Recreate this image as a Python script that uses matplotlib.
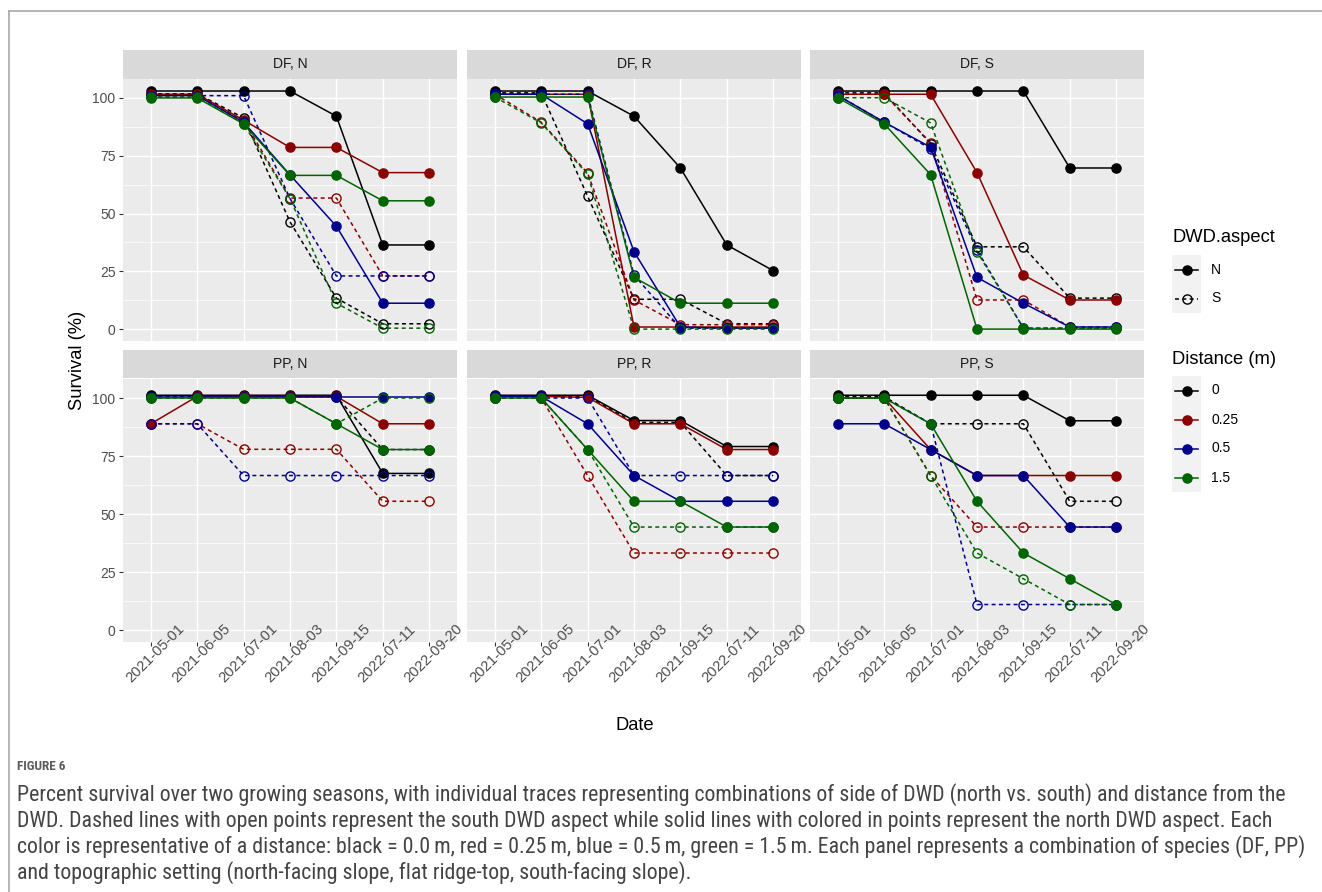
import matplotlib
matplotlib.use("Agg")
import matplotlib.pyplot as plt
from matplotlib import font_manager
from matplotlib.patches import Rectangle
from matplotlib.lines import Line2D
from matplotlib.transforms import ScaledTranslation, blended_transform_factory

# ---------------------------------------------------------------- data
dates = ["2021-05-01", "2021-06-05", "2021-07-01", "2021-08-03",
         "2021-09-15", "2022-07-11", "2022-09-20"]
distances = ["0", "0.25", "0.5", "1.5"]
aspects = ["N", "S"]
species = ["DF", "PP"]
settings = ["N", "R", "S"]

# rows: distance 0, 0.25, 0.5, 1.5 ; columns: survey dates
df_n_north = [[103, 103, 103, 103, 92.1, 36.4, 36.4],
              [101.6, 101.6, 90.4, 78.6, 78.6, 67.7, 67.7],
              [101, 101, 89.5, 66.7, 44.5, 11.2, 11.2],
              [100, 100, 88.8, 66.5, 66.5, 55.5, 55.5]]
df_n_south = [[101.8, 101.8, 91.4, 46.4, 13.4, 2.3, 2.3],
              [101, 101, 90.2, 56.7, 56.7, 23, 23],
              [101, 101, 101, 56.5, 23, 23, 23],
              [100.4, 100.4, 88.8, 56.5, 11.2, 0.4, 0.4]]

df_r_north = [[103, 103, 103, 92.1, 69.7, 36.4, 25.3],
              [101.6, 101.6, 101.6, 0.9, 0.9, 0.9, 0.9],
              [101.6, 101.6, 88.8, 33.5, 0.9, 0.4, 0.4],
              [100.4, 100.4, 100.4, 22.4, 11.2, 11.2, 11.2]]
df_r_south = [[102.2, 102.2, 57.5, 12.9, 12.9, 2.3, 2.3],
              [101.6, 89.5, 67.5, 12.6, 1.9, 1.9, 1.9],
              [101.6, 101.6, 101.6, 23.4, 0.4, 0.4, 0.4],
              [100.4, 89.2, 67, 0, 0, 0, 0]]

df_s_north = [[103, 103, 103, 103, 103, 69.7, 69.7],
              [101.6, 101.6, 101.6, 67.7, 23.4, 12.6, 12.6],
              [101.1, 89.5, 78.7, 22.4, 11.2, 0.9, 0.9],
              [100.1, 88.8, 66.8, 0, 0, 0, 0]]
df_s_south = [[102.2, 102.2, 80.2, 35.6, 35.6, 13.4, 13.4],
              [101.6, 101.6, 80.6, 12.6, 12.6, 0.9, 0.9],
              [101.1, 89.5, 78, 34.2, 0.4, 0.4, 0.4],
              [100.1, 100.1, 89.2, 33.5, 0.4, 0.4, 0.4]]

pp_n_north = [[101.2, 101.2, 101.2, 101.2, 101.2, 67.5, 67.5],
              [88.9, 100.7, 100.7, 100.7, 100.7, 88.9, 88.9],
              [100.5, 100.5, 100.5, 100.5, 100.5, 100.5, 100.5],
              [100, 100, 100, 100, 88.9, 77.8, 77.8]]
pp_n_south = [[100.6, 100.6, 100.6, 100.6, 100.6, 77.8, 77.8],
              [88.9, 88.9, 77.9, 77.9, 77.9, 55.5, 55.5],
              [88.9, 88.9, 66.6, 66.6, 66.6, 66.6, 66.6],
              [100, 100, 100, 100, 88.9, 100, 100]]

pp_r_north = [[101.2, 101.2, 101.2, 90.3, 90.3, 79.1, 79.1],
              [100.7, 100.7, 100.3, 88.9, 88.9, 77.8, 77.8],
              [100.7, 100.7, 88.9, 66.6, 55.5, 55.5, 55.5],
              [100, 100, 77.8, 55.5, 55.5, 44.4, 44.4]]
pp_r_south = [[100.7, 100.7, 100.7, 89.5, 89.5, 66.6, 66.6],
              [100, 100, 66.6, 33.2, 33.2, 33.2, 33.2],
              [100, 100, 100, 66.6, 66.6, 66.6, 66.6],
              [100, 100, 77.8, 44.4, 44.4, 44.4, 44.4]]

pp_s_north = [[101.2, 101.2, 101.2, 101.2, 101.2, 90.2, 90.2],
              [100, 100, 77.8, 66.6, 66.6, 66.6, 66.6],
              [88.9, 88.9, 77.8, 66.6, 66.6, 44.4, 44.4],
              [100, 100, 88.9, 55.5, 33.2, 22.1, 11.0]]
pp_s_south = [[100.6, 100.6, 88.9, 88.9, 88.9, 55.5, 55.5],
              [100, 100, 66.6, 44.4, 44.4, 44.4, 44.4],
              [100, 100, 88.9, 11.0, 11.0, 11.0, 11.0],
              [100, 100, 66.6, 33.2, 22.1, 11.0, 11.0]]

y_ticks = [0, 25, 50, 75, 100]

panel_data = {
    ("DF", "N"): (df_n_north, df_n_south),
    ("DF", "R"): (df_r_north, df_r_south),
    ("DF", "S"): (df_s_north, df_s_south),
    ("PP", "N"): (pp_n_north, pp_n_south),
    ("PP", "R"): (pp_r_north, pp_r_south),
    ("PP", "S"): (pp_s_north, pp_s_south),
}

caption_label = "FIGURE 6"
caption_lines = [
    "Percent survival over two growing seasons, with individual traces representing combinations of side of DWD (north vs. south) and distance from the",
    "DWD. Dashed lines with open points represent the south DWD aspect while solid lines with colored in points represent the north DWD aspect. Each",
    "color is representative of a distance: black = 0.0\u2009m, red = 0.25\u2009m, blue = 0.5\u2009m, green = 1.5\u2009m. Each panel represents a combination of species (DF, PP)",
    "and topographic setting (north-facing slope, flat ridge-top, south-facing slope).",
]

# ---------------------------------------------------------------- style
colors = ["#000000", "#8B0000", "#00008B", "#006400"]
PANEL_BG = "#EBEBEB"
STRIP_BG = "#D9D9D9"
TICK_TXT = "#4D4D4D"
TICK_CLR = "#333333"
FONT = "Liberation Sans"
plt.rcParams["font.family"] = [FONT, "DejaVu Sans"]

W, H = 1322, 892
DPI = 100
fig = plt.figure(figsize=(W / DPI, H / DPI), dpi=DPI)
fig.patch.set_facecolor("white")

col_left = [123, 467, 810]
panel_w = 334
row_top = [79, 379]
panel_h = [262, 263]
strip_h = 28.5


def px_rect(x, y, w, h):
    return [x / W, 1 - (y + h) / H, w / W, h / H]


xpos = list(range(1, len(dates) + 1))
solid_ls = "-"
dash_ls = (0, (2.6, 2.2))
LW = 1.1
MS = 6.6

# overlay in pixel coordinates for titles, legends, caption and date labels
ov = fig.add_axes([0, 0, 1, 1], zorder=5)
ov.set_xlim(0, W)
ov.set_ylim(H, 0)
ov.axis("off")
ov.patch.set_alpha(0)

for r, sp in enumerate(species):
    for c, st in enumerate(settings):
        ax = fig.add_axes(px_rect(col_left[c], row_top[r], panel_w, panel_h[r]))
        ax.set_facecolor(PANEL_BG)
        for s in ax.spines.values():
            s.set_visible(False)
        ax.set_xlim(0.4, len(dates) + 0.6)
        ax.set_ylim(-5.15, 108.2)
        ax.set_yticks(y_ticks)
        ax.set_yticks([12.5, 37.5, 62.5, 87.5], minor=True)
        ax.set_xticks(xpos)
        ax.grid(True, which="major", color="white", linewidth=1.05, zorder=0)
        ax.grid(True, which="minor", axis="y", color="white", linewidth=0.5, zorder=0)
        ax.set_axisbelow(True)
        ax.tick_params(which="minor", length=0)
        ax.tick_params(which="major", length=2.9, width=0.8, color=TICK_CLR,
                       labelcolor=TICK_TXT, labelsize=10)
        ax.tick_params(axis="x", labelbottom=False)

        north, south = panel_data[(sp, st)]
        # lines first, then points (as the groups are layered)
        for d in range(len(distances)):
            ax.plot(xpos, north[d], color=colors[d], lw=LW, ls=solid_ls, zorder=2)
            ax.plot(xpos, south[d], color=colors[d], lw=LW, ls=dash_ls, zorder=2)
        for d in range(len(distances)):
            ax.plot(xpos, north[d], ls="none", marker="o", ms=MS,
                    mfc=colors[d], mec=colors[d], mew=1.0, zorder=3)
            ax.plot(xpos, south[d], ls="none", marker="o", ms=MS,
                    mfc="none", mec=colors[d], mew=1.0, zorder=3)

        if c == 0:
            ax.set_yticklabels([str(v) for v in y_ticks])
            ax.tick_params(axis="y", pad=2.5)
        else:
            ax.tick_params(axis="y", length=0, labelleft=False)
        if r == 1:
            # rotated date labels, centred just below and right of each tick
            tr = blended_transform_factory(ax.transData, ax.transAxes) + \
                ScaledTranslation(4.5 / DPI, -11.5 / DPI, fig.dpi_scale_trans)
            for xp, lab in zip(xpos, dates):
                ov.text(xp, 0, lab, transform=tr, rotation=45, ha="center",
                        va="center", rotation_mode="anchor", fontsize=10.6,
                        color=TICK_TXT, clip_on=False)
        else:
            ax.tick_params(axis="x", length=0)

        # facet strip
        sax = fig.add_axes(px_rect(col_left[c], row_top[r] - strip_h - 0.5,
                                   panel_w, strip_h))
        sax.set_facecolor(STRIP_BG)
        sax.set_xticks([])
        sax.set_yticks([])
        for s in sax.spines.values():
            s.set_visible(False)
        sax.text(0.5, 0.5, f"{sp}, {st}", ha="center", va="center",
                 fontsize=10, color="#1A1A1A", transform=sax.transAxes)

# axis titles
ov.text(77, 360, "Survival (%)", rotation=90, ha="center", va="center",
        fontsize=13.2, color="black")
ov.text(635, 725, "Date", ha="center", va="center", fontsize=13.2, color="black")


def legend_block(title, title_y, box_top, labels, key_colors, styles, fills):
    ov.text(1172, title_y, title, ha="left", va="center", fontsize=13.2)
    key = 29
    for i, lab in enumerate(labels):
        y0 = box_top + i * key
        ov.add_patch(Rectangle((1172, y0), key, key, facecolor="#F2F2F2",
                               edgecolor="none"))
        cy = y0 + key / 2
        ov.add_line(Line2D([1175, 1198], [cy, cy], color=key_colors[i], lw=LW,
                           ls=styles[i]))
        ov.add_line(Line2D([1186.5], [cy], marker="o", ms=MS, ls="none",
                           mfc=key_colors[i] if fills[i] else "none",
                           mec=key_colors[i], mew=1.0))
        ov.text(1211, cy, lab, ha="left", va="center", fontsize=10)


legend_block("DWD.aspect", 237, 255, aspects, ["black", "black"],
             [solid_ls, dash_ls], [True, False])
legend_block("Distance (m)", 359, 376, distances, colors,
             [solid_ls] * 4, [True] * 4)

# outer frame (top and left rules)
ov.add_line(Line2D([9, W], [11, 11], color="#A8A8A8", lw=1.2))
ov.add_line(Line2D([9, 9], [11, H], color="#A8A8A8", lw=1.2))


def pick_font(cands):
    for f in cands:
        try:
            font_manager.findfont(font_manager.FontProperties(family=f),
                                  fallback_to_default=False)
            return f
        except Exception:
            continue
    return FONT


cap_font = pick_font(["Liberation Sans Narrow", "Roboto Condensed",
                      "Open Sans Condensed", "Roboto"])
ov.text(17, 767, caption_label, ha="left", va="center", fontsize=9.5,
        color="#5A5A5A", family=[cap_font, "DejaVu Sans"], weight="bold")

renderer = fig.canvas.get_renderer()
cap_texts = []
for i, line in enumerate(caption_lines):
    cap_texts.append(ov.text(17, 795 + i * 26, line, ha="left", va="center",
                             fontsize=12, color="#444444",
                             family=[cap_font, "DejaVu Sans"]))
widest = max(t.get_window_extent(renderer).width for t in cap_texts)
cap_size = 12 * 1290 / widest
for t in cap_texts:
    t.set_fontsize(cap_size)

fig.savefig("out.png", dpi=DPI, facecolor="white")
